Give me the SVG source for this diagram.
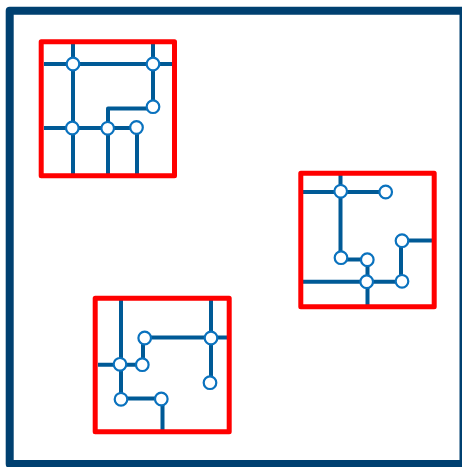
<svg xmlns="http://www.w3.org/2000/svg" width="462" height="467" viewBox="0 0 462 467">
<style>
.frame{fill:none;stroke:#004070;stroke-width:8;stroke-linejoin:round}
.box{fill:none;stroke:#ff0000;stroke-width:5;stroke-linejoin:round}
.c{fill:none;stroke:#005a96;stroke-width:4;stroke-linejoin:round}
.n{fill:#fff;stroke:#0a72be;stroke-width:2.200}
</style>
<rect width="462" height="467" fill="#fff"/>
<rect id="frame" class="frame" x="9.700" y="10.700" width="453.800" height="453.300"/>
<g id="connectors">
<path class="c" d="M73 44V175M44 64H172M153 44V107M44 128H137M108 128V175M137 128V175M153 108.500H108V128"/>
<path class="c" d="M340.500 173V258M303 192H386M341 259.500H367M367.500 260V306M303 281.700H402M401 241V281M402 240.500H432"/>
<path class="c" d="M121 300V399M98 364.700H142M143 338V364M145 337.500H227M211 300V382M121 398.500H161M162.500 399V431"/>
</g>
<g id="box1"><rect class="box" x="41.200" y="41.800" width="133.300" height="134"/></g>
<g id="box2"><rect class="box" x="300.800" y="173.200" width="133.400" height="133.600"/></g>
<g id="box3"><rect class="box" x="95.200" y="298.200" width="134" height="133.600"/></g>
<g id="n1"><circle class="n" cx="73" cy="64" r="6.300"/></g>
<g id="n2"><circle class="n" cx="153" cy="64" r="6.300"/></g>
<g id="n3"><circle class="n" cx="153" cy="106.700" r="6.300"/></g>
<g id="n4"><circle class="n" cx="72.300" cy="128" r="6.300"/></g>
<g id="n5"><circle class="n" cx="107.700" cy="128.300" r="6.300"/></g>
<g id="n6"><circle class="n" cx="136.500" cy="127.500" r="6.300"/></g>
<g id="n7"><circle class="n" cx="340.700" cy="191.300" r="6.300"/></g>
<g id="n8"><circle class="n" cx="385.700" cy="192" r="6.300"/></g>
<g id="n9"><circle class="n" cx="341" cy="257.700" r="6.300"/></g>
<g id="n10"><circle class="n" cx="367.300" cy="259.700" r="6.300"/></g>
<g id="n11"><circle class="n" cx="366.700" cy="281.700" r="6.300"/></g>
<g id="n12"><circle class="n" cx="402" cy="281.300" r="6.300"/></g>
<g id="n13"><circle class="n" cx="402" cy="240.700" r="6.300"/></g>
<g id="n14"><circle class="n" cx="144.700" cy="338" r="6.300"/></g>
<g id="n15"><circle class="n" cx="211" cy="338" r="6.300"/></g>
<g id="n16"><circle class="n" cx="210" cy="382.700" r="6.300"/></g>
<g id="n17"><circle class="n" cx="120" cy="364.300" r="6.300"/></g>
<g id="n18"><circle class="n" cx="142.300" cy="364.700" r="6.300"/></g>
<g id="n19"><circle class="n" cx="121" cy="399.300" r="6.300"/></g>
<g id="n20"><circle class="n" cx="161.300" cy="399" r="6.300"/></g>
</svg>
